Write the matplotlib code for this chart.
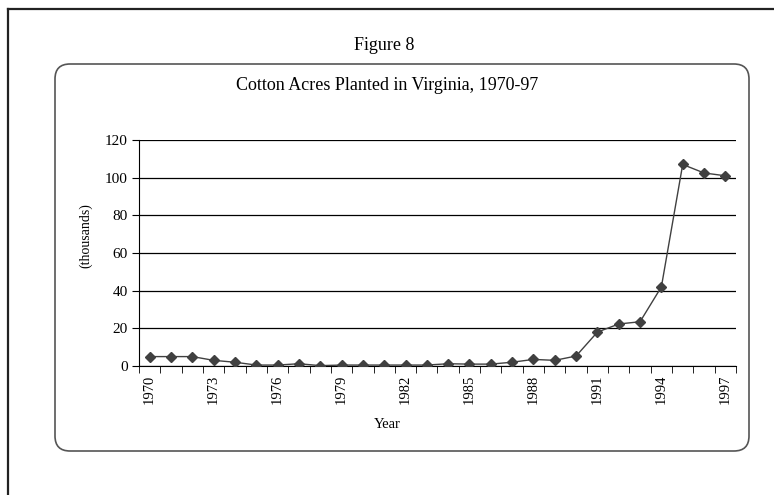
import matplotlib
matplotlib.use("Agg")
import matplotlib.pyplot as plt
from matplotlib.patches import FancyBboxPatch
from matplotlib.lines import Line2D
import numpy as np

years = list(range(1970, 1998))
acres_thousands = [5, 5, 5, 3, 2, 0.5, 0.5, 1.2, 0.2, 0.5, 0.5, 0.5, 0.5, 0.5,
                   1.2, 1, 1, 2, 3.5, 3, 5.3, 18, 22.3, 23.5, 42, 107, 102.5, 101]
y_ticks = [0, 20, 40, 60, 80, 100, 120]
label_years = [1970, 1973, 1976, 1979, 1982, 1985, 1988, 1991, 1994, 1997]

plt.rcParams['font.family'] = ['Liberation Serif', 'DejaVu Serif']

fig = plt.figure(figsize=(7.74, 4.95), dpi=100)
fig.patch.set_facecolor('white')

# outer frame (top and left edges visible)
fig.add_artist(Line2D([8/774, 1.0], [1 - 9/495, 1 - 9/495], transform=fig.transFigure,
                      color='#222222', lw=1.6))
fig.add_artist(Line2D([8/774, 8/774], [1 - 9/495, 0.0], transform=fig.transFigure,
                      color='#222222', lw=1.6))

# rounded chart box
box = FancyBboxPatch((0.55, 0.44), 6.94, 3.87,
                     boxstyle="round,pad=0,rounding_size=0.15",
                     transform=fig.dpi_scale_trans, facecolor='none',
                     edgecolor='#555555', lw=1.2)
fig.add_artist(box)

ax = fig.add_axes([139/774, 1 - 366/495, (736 - 139)/774, (366 - 140)/495])
x = np.arange(len(years))
ax.plot(x, acres_thousands, color='#404040', lw=1.0, marker='D', markersize=5,
        markerfacecolor='#404040', markeredgecolor='#404040', zorder=3)

ax.set_xlim(-0.5, len(years) - 0.5)
ax.set_ylim(0, 120)
ax.set_yticks(y_ticks)
ax.set_yticklabels([str(v) for v in y_ticks], fontsize=11)
ax.yaxis.grid(True, color='black', lw=0.9)
ax.set_axisbelow(True)

ax.set_xticks(np.arange(-0.5, len(years), 1.0), minor=True)
ax.set_xticks([years.index(y) for y in label_years])
ax.set_xticklabels([str(y) for y in label_years], rotation=90, fontsize=10.5)
ax.tick_params(axis='x', which='major', length=0, pad=6)
ax.tick_params(axis='x', which='minor', length=5, direction='out', color='black')
ax.tick_params(axis='y', length=5, direction='out', color='black', pad=3)

for s in ['top', 'right']:
    ax.spines[s].set_visible(False)
ax.spines['left'].set_color('black')
ax.spines['bottom'].set_color('black')

fig.text(0.497, 1 - 46/495, 'Figure 8', ha='center', va='center', fontsize=13)
fig.text(0.5, 1 - 86/495, 'Cotton Acres Planted in Virginia, 1970-97', ha='center',
         va='center', fontsize=13)
fig.text(0.5, 1 - 424/495, 'Year', ha='center', va='center', fontsize=10.5)
fig.text(86/774, 1 - 236/495, '(thousands)', ha='center', va='center', rotation=90,
         fontsize=10)

fig.savefig('out.png', dpi=100, facecolor='white')
